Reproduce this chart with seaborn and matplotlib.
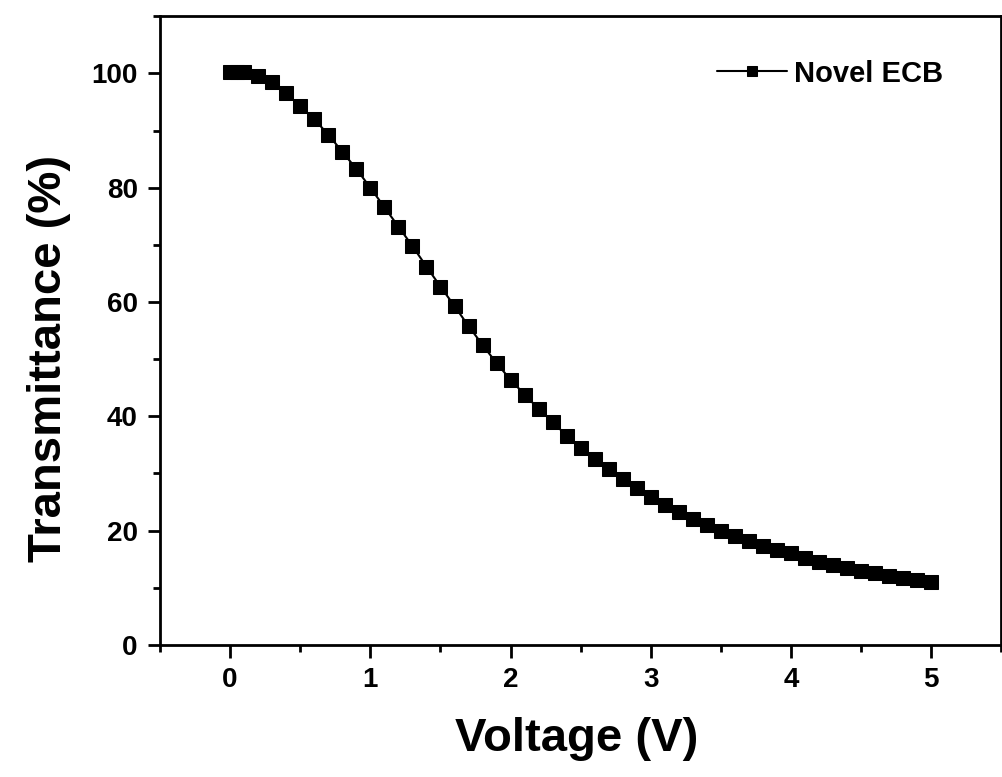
import matplotlib
matplotlib.use("Agg")
import matplotlib.pyplot as plt
from matplotlib.ticker import MultipleLocator
import pandas as pd
import seaborn as sns

# data
voltage = [0.0, 0.05, 0.1, 0.2, 0.3, 0.4, 0.5, 0.6, 0.7, 0.8, 0.9,
           1.0, 1.1, 1.2, 1.3, 1.4, 1.5, 1.6, 1.7, 1.8, 1.9,
           2.0, 2.1, 2.2, 2.3, 2.4, 2.5, 2.6, 2.7, 2.8, 2.9,
           3.0, 3.1, 3.2, 3.3, 3.4, 3.5, 3.6, 3.7, 3.8, 3.9,
           4.0, 4.1, 4.2, 4.3, 4.4, 4.5, 4.6, 4.7, 4.8, 4.9, 5.0]
transmittance = [100.3, 100.3, 100.2, 99.5, 98.5, 96.5, 94.3, 92.0, 89.3, 86.3, 83.3,
                 80.0, 76.6, 73.2, 69.8, 66.2, 62.7, 59.3, 55.8, 52.5, 49.3,
                 46.4, 43.8, 41.3, 39.0, 36.6, 34.5, 32.6, 30.8, 29.1, 27.5,
                 25.9, 24.5, 23.3, 22.1, 21.0, 20.0, 19.0, 18.1, 17.3, 16.6,
                 16.0, 15.2, 14.5, 14.0, 13.5, 13.0, 12.5, 12.1, 11.7, 11.3, 11.0]
series_name = "Novel ECB"

df = pd.DataFrame({"Voltage": voltage, "Transmittance": transmittance})

sns.set_theme(
    style="ticks",
    rc={
        "text.color": "black",
        "axes.labelcolor": "black",
        "xtick.color": "black",
        "ytick.color": "black",
        "axes.edgecolor": "black",
    },
)
plt.rcParams["font.family"] = ["Liberation Sans", "DejaVu Sans"]
plt.rcParams["font.weight"] = "bold"

fig = plt.figure(figsize=(10.03, 7.77), dpi=100)
ax = fig.add_axes([0.1595, 0.170, 0.839, 0.809])

sns.lineplot(
    data=df,
    x="Voltage",
    y="Transmittance",
    color="black",
    marker="s",
    markersize=9.5,
    markeredgecolor="black",
    linewidth=1.5,
    label=series_name,
    ax=ax,
)

ax.set_xlim(-0.5, 5.5)
ax.set_ylim(0, 110)
ax.xaxis.set_major_locator(MultipleLocator(1))
ax.xaxis.set_minor_locator(MultipleLocator(0.5))
ax.yaxis.set_major_locator(MultipleLocator(20))
ax.yaxis.set_minor_locator(MultipleLocator(10))
ax.tick_params(which="major", direction="out", length=9, width=2, labelsize=20, pad=7)
ax.tick_params(which="minor", direction="out", length=5, width=2)
for spine in ax.spines.values():
    spine.set_linewidth(2)

ax.set_xlabel("Voltage (V)", fontsize=34, fontweight="bold")
ax.set_ylabel("Transmittance (%)", fontsize=34, fontweight="bold")
ax.xaxis.set_label_coords(0.495, -0.114)
ax.yaxis.set_label_coords(-0.106, 0.455)

ax.legend(
    loc="upper right",
    bbox_to_anchor=(0.962, 0.973),
    frameon=False,
    fontsize=21,
    handlelength=2.4,
    handletextpad=0.25,
    markerscale=0.75,
)

fig.savefig("out.png", dpi=100)
